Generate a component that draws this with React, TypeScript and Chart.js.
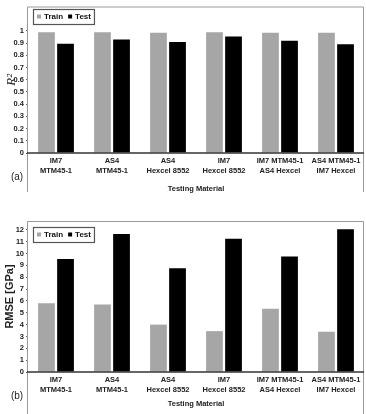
import React, { useEffect, useRef } from "react";
import { Chart, registerables } from "chart.js";

Chart.register(...registerables);

// ---------- data ----------
const categories: string[][] = [
  ["IM7", "MTM45-1"],
  ["AS4", "MTM45-1"],
  ["AS4", "Hexcel 8552"],
  ["IM7", "Hexcel 8552"],
  ["IM7 MTM45-1", "AS4 Hexcel"],
  ["AS4 MTM45-1", "IM7 Hexcel"],
];
const seriesNames = ["Train", "Test"];
const r2Train = [0.99, 0.99, 0.985, 0.99, 0.985, 0.985];
const r2Test = [0.895, 0.93, 0.91, 0.955, 0.92, 0.89];
const rmseTrain = [5.8, 5.7, 4.0, 3.45, 5.35, 3.4];
const rmseTest = [9.55, 11.65, 8.75, 11.25, 9.75, 12.05];
const xTitle = "Testing Material";
const r2Title = "R\u00B2";
const rmseTitle = "RMSE [GPa]";
const panelLabels = ["(a)", "(b)"];

// ---------- style ----------
const FONT = "'Liberation Sans', Arial, Helvetica, sans-serif";
const TRAIN_COLOR = "#a6a6a6";
const TEST_COLOR = "#000000";
const W = 366;
const H = 207;

type PanelCfg = {
  train: number[];
  test: number[];
  yMax: number;
  yLabelMax: number;
  step: number;
  yTitle: string;
  yTitleFont: any;
  yTitlePad: number;
  topPad: number;
  xHeight: number;
  xTitlePadBottom: number;
  panelLabel: string;
  panelLabelY: number;
  frameBottom: number;
  legendTop: number;
  decimals: number;
};

function makePlugin(cfg: PanelCfg) {
  return {
    id: "frameAndLegend",
    afterDraw(chart: any) {
      const { ctx, chartArea: a } = chart;
      ctx.save();
      // frame (y-axis line + top + right)
      ctx.strokeStyle = "#9a9a9a";
      ctx.lineWidth = 1;
      ctx.beginPath();
      ctx.moveTo(a.left - 0.5, cfg.frameBottom);
      ctx.lineTo(a.left - 0.5, a.top + 0.5);
      ctx.lineTo(a.right - 0.5, a.top + 0.5);
      ctx.lineTo(a.right - 0.5, cfg.frameBottom);
      ctx.stroke();
      // x axis line
      ctx.strokeStyle = "#333";
      ctx.lineWidth = 1.5;
      ctx.beginPath();
      ctx.moveTo(a.left - 1, a.bottom);
      ctx.lineTo(a.right, a.bottom);
      ctx.stroke();
      // panel label
      ctx.fillStyle = "#222";
      ctx.font = `10px ${FONT}`;
      ctx.textAlign = "center";
      ctx.textBaseline = "middle";
      ctx.fillText(cfg.panelLabel, 17, cfg.panelLabelY);
      // legend box
      const ds = chart.data.datasets;
      ctx.font = `bold 8px ${FONT}`;
      const left = a.left + 5;
      const top = cfg.legendTop;
      const h = 15;
      let x = left + 4;
      const cy = top + h / 2;
      const items: { x: number; color: string; label: string }[] = [];
      ds.forEach((d: any, i: number) => {
        items.push({ x, color: d.backgroundColor, label: d.label });
        x += 4 + 3 + ctx.measureText(d.label).width;
        if (i < ds.length - 1) x += 5;
      });
      const w = x + 3 - left;
      ctx.fillStyle = "#fff";
      ctx.fillRect(left, top, w, h);
      ctx.strokeStyle = "#555";
      ctx.lineWidth = 1.2;
      ctx.strokeRect(left + 0.5, top + 0.5, w, h);
      ctx.textAlign = "left";
      items.forEach((it) => {
        ctx.fillStyle = it.color;
        ctx.fillRect(it.x, cy - 2, 4, 4);
        ctx.fillStyle = "#111";
        ctx.fillText(it.label, it.x + 7, cy + 0.5);
      });
      ctx.restore();
    },
  };
}

function Panel({ cfg }: { cfg: PanelCfg }) {
  const ref = useRef<HTMLCanvasElement | null>(null);
  useEffect(() => {
    if (!ref.current) return;
    const eps = 1e-6;
    const chart = new Chart(ref.current, {
      type: "bar",
      data: {
        labels: categories,
        datasets: [
          {
            label: seriesNames[0],
            data: cfg.train,
            backgroundColor: TRAIN_COLOR,
            categoryPercentage: 0.68,
            barPercentage: 0.88,
          },
          {
            label: seriesNames[1],
            data: cfg.test,
            backgroundColor: TEST_COLOR,
            categoryPercentage: 0.68,
            barPercentage: 0.88,
          },
        ],
      },
      options: {
        responsive: false,
        animation: false,
        events: [],
        layout: { padding: { left: 0, right: 2, top: cfg.topPad, bottom: 0 } },
        plugins: { legend: { display: false }, tooltip: { enabled: false } },
        scales: {
          x: {
            type: "category",
            offset: true,
            grid: { display: false, drawTicks: false },
            border: { display: false },
            ticks: {
              autoSkip: false,
              maxRotation: 0,
              minRotation: 0,
              padding: 3,
              color: "#222",
              font: { family: FONT, size: 7.5, weight: "bold", lineHeight: 1.3 },
            },
            title: {
              display: true,
              text: xTitle,
              color: "#222",
              font: { family: FONT, size: 7.5, weight: "bold", lineHeight: 1.2 },
              padding: { top: 0, bottom: cfg.xTitlePadBottom },
            },
            afterFit: (s: any) => {
              s.height = cfg.xHeight;
            },
          },
          y: {
            min: 0,
            max: cfg.yMax,
            grid: {
              display: true,
              drawOnChartArea: false,
              drawTicks: true,
              tickLength: 2,
              color: (c: any) =>
                c.tick && c.tick.value > cfg.yLabelMax + eps ? "rgba(0,0,0,0)" : "#666",
            },
            border: { display: false },
            ticks: {
              stepSize: cfg.step,
              autoSkip: false,
              padding: 2,
              color: "#222",
              font: { family: FONT, size: 7.5, weight: "bold" },
              callback: (v: any) =>
                v > cfg.yLabelMax + eps ? "" : String(Number(Number(v).toFixed(cfg.decimals))),
            },
            title: {
              display: true,
              text: cfg.yTitle,
              color: "#222",
              font: cfg.yTitleFont,
              padding: { top: cfg.yTitlePad, bottom: 0 },
            },
            afterFit: (s: any) => {
              s.width = 28;
            },
          },
        },
      } as any,
      plugins: [makePlugin(cfg)],
    });
    return () => chart.destroy();
  }, [cfg]);
  return (
    <div style={{ width: W, height: H, position: "relative" }}>
      <canvas ref={ref} width={W} height={H} style={{ display: "block", width: W, height: H }} />
    </div>
  );
}

const topCfg: PanelCfg = {
  train: r2Train,
  test: r2Test,
  yMax: 1.2,
  yLabelMax: 1,
  step: 0.1,
  yTitle: r2Title,
  yTitleFont: { family: "'Liberation Serif', 'DejaVu Serif', serif", size: 13, style: "italic", lineHeight: 1.2 },
  yTitlePad: 4,
  topPad: 2,
  xHeight: 54,
  xTitlePadBottom: 14,
  panelLabel: panelLabels[0],
  panelLabelY: 177,
  frameBottom: 192,
  legendTop: 9,
  decimals: 1,
};

const bottomCfg: PanelCfg = {
  train: rmseTrain,
  test: rmseTest,
  yMax: 12.75,
  yLabelMax: 12,
  step: 1,
  yTitle: rmseTitle,
  yTitleFont: { family: FONT, size: 11, weight: "bold", lineHeight: 1.2 },
  yTitlePad: 3,
  topPad: 14,
  xHeight: 42,
  xTitlePadBottom: 6,
  panelLabel: panelLabels[1],
  panelLabelY: 189,
  frameBottom: 207,
  legendTop: 20,
  decimals: 0,
};

export default function App() {
  return (
    <div style={{ position: "absolute", left: 0, top: 0, width: W, height: 414, background: "#fff" }}>
      <Panel cfg={topCfg} />
      <Panel cfg={bottomCfg} />
    </div>
  );
}
